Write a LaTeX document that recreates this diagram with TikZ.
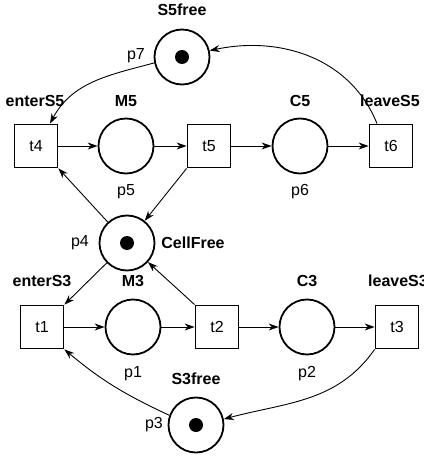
\documentclass[tikz,border=0pt]{standalone}
\usepackage{fontspec}
\setmainfont{Liberation Sans}
\usetikzlibrary{arrows.meta}
\begin{document}
\begin{tikzpicture}[x=1pt,y=-1pt,
  place/.style={circle,draw,line width=1.8pt,minimum size=55pt,inner sep=0pt},
  trans/.style={rectangle,draw,line width=1.8pt,minimum size=43pt,inner sep=0pt,font=\fontsize{16}{18}\selectfont},
  tok/.style={circle,fill=black,minimum size=14pt,inner sep=0pt},
  lab/.style={font=\fontsize{16}{18}\selectfont,inner sep=0pt},
  blab/.style={font=\fontsize{16}{18}\selectfont\bfseries,inner sep=0pt},
  arc/.style={line width=0.9pt,-{Stealth[length=10pt,width=7pt]}}
]
\useasboundingbox (0,0) rectangle (423,457);
% upper line
\node[place] (p7) at (182,57) {};
\node[tok] (k7) at (p7) {};
\node[trans] (t4) at (36,146) {t4};
\node[place] (p5) at (126,146) {};
\node[trans] (t5) at (209,146) {t5};
\node[place] (p6) at (300,146) {};
\node[trans] (t6) at (391,146) {t6};
\node[place] (p4) at (127,243) {};
\node[tok] (k4) at (p4) {};
% lower line
\node[trans] (t1) at (42,327) {t1};
\node[place] (p1) at (133,327) {};
\node[trans] (t2) at (217,327) {t2};
\node[place] (p2) at (307,327) {};
\node[trans] (t3) at (397,327) {t3};
\node[place] (p3) at (196,425) {};
\node[tok] (k3) at (p3) {};
% labels
\node[blab] (l7) at (182,10) {S5free};
\node[lab] (n7) at (136,56) {p7};
\node[blab] (le5) at (35,101) {enterS5};
\node[blab] (lm5) at (126,101) {M5};
\node[blab] (lc5) at (300,101) {C5};
\node[blab] (ll5) at (390,101) {leaveS5};
\node[lab] (n5) at (126,192) {p5};
\node[lab] (n6) at (300,192) {p6};
\node[lab] (n4) at (80,243) {p4};
\node[blab] (lcf) at (193,243) {CellFree};
\node[blab] (le3) at (42,281) {enterS3};
\node[blab] (lm3) at (133,281) {M3};
\node[blab] (lc3) at (307,281) {C3};
\node[blab,anchor=west] (ll3) at (368,281) {leaveS3};
\node[lab] (n1) at (133,374) {p1};
\node[lab] (n2) at (307,374) {p2};
\node[blab] (l3) at (196,379) {S3free};
\node[lab] (n3) at (154,425) {p3};
% arcs upper
\draw[arc] (t4) -- (p5);
\draw[arc] (p5) -- (t5);
\draw[arc] (t5) -- (p6);
\draw[arc] (p6) -- (t6);
\draw[arc] (t6.122) to[out=112,in=12] (p7.13);
\draw[arc] (p7.192) to[out=195,in=62] (t4.58);
\draw[arc] (t5.south west) -- (p4);
\draw[arc] (p4) -- (t4.south east);
% arcs lower
\draw[arc] (t1) -- (p1);
\draw[arc] (p1) -- (t2);
\draw[arc] (t2) -- (p2);
\draw[arc] (p2) -- (t3);
\draw[arc] (p4) -- (t1.north east);
\draw[arc] (t2.north west) -- (p4);
\draw[arc] (t3.south west) to[out=-125,in=15] (p3.12);
\draw[arc] (p3.160) to[out=155,in=-40] (t1.south east);
\end{tikzpicture}
\end{document}
